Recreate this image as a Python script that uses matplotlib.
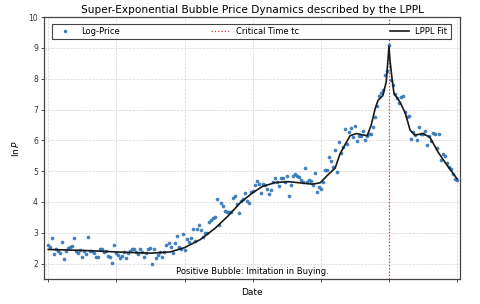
import numpy as np
import matplotlib.pyplot as plt
from matplotlib.lines import Line2D

# observed log-price (equally spaced in time, 0 .. 6 tick units)
log_price = [
    2.62, 2.55, 2.83, 2.30, 2.46, 2.40, 2.34, 2.70, 2.16, 2.42, 2.50, 2.55, 2.57, 2.84, 2.42, 2.34, 2.45, 2.22, 2.40, 2.30,
    2.88, 2.40, 2.42, 2.33, 2.20, 2.20, 2.49, 2.48, 2.38, 2.40, 2.24, 2.20, 2.02, 2.60, 2.35, 2.27, 2.19, 2.25, 2.38, 2.19,
    2.33, 2.40, 2.47, 2.49, 2.38, 2.30, 2.47, 2.38, 2.22, 2.35, 2.49, 2.52, 2.00, 2.49, 2.19, 2.27, 2.38, 2.22, 2.38, 2.60,
    2.68, 2.55, 2.33, 2.68, 2.90, 2.55, 2.49, 2.95, 2.45, 2.80, 2.70, 2.82, 3.12, 2.72, 3.14, 3.25, 3.10, 2.88, 3.00, 2.98,
    3.36, 3.42, 3.47, 3.50, 4.10, 3.25, 3.97, 3.86, 3.70, 3.69, 3.68, 3.67, 4.13, 4.20, 3.93, 3.65, 4.02, 4.10, 4.30, 4.02,
    3.98, 4.33, 4.36, 4.55, 4.68, 4.60, 4.29, 4.60, 4.55, 4.43, 4.27, 4.40, 4.65, 4.78, 4.65, 4.53, 4.78, 4.78, 4.65, 4.85,
    4.20, 4.56, 4.85, 4.90, 4.85, 4.80, 4.70, 4.65, 5.10, 4.65, 4.70, 4.68, 4.55, 4.94, 4.33, 4.50, 4.43, 4.65, 5.04, 5.05,
    5.46, 5.34, 5.13, 5.69, 4.98, 5.95, 5.60, 5.78, 6.37, 5.88, 6.28, 6.40, 6.12, 6.46, 5.98, 6.15, 6.15, 6.30, 6.00, 6.15,
    6.20, 6.22, 6.44, 6.75, 7.11, 7.45, 7.55, 7.62, 8.12, 8.25, 9.09, 7.96, 7.80, 7.50, 7.37, 7.20, 7.42, 7.44, 6.92,
    6.77, 6.80, 6.04, 6.27, 6.16, 6.00, 6.43, 6.20, 6.22, 6.30, 5.85, 6.15, 5.97, 6.25, 6.22, 5.75, 6.20, 5.37, 5.55, 5.50,
    5.27, 5.14, 5.07, 4.90, 4.75, 4.70,
]
t_start, t_end = 0.0, 6.0

# LPPL fit curve
fit_t = [0.0, 0.50, 1.0, 1.5, 1.79, 2.0, 2.23, 2.45, 2.64, 2.82, 3.0, 3.14, 3.33, 3.52, 3.70, 3.87, 3.99,
         4.09, 4.21, 4.28, 4.36, 4.43, 4.52, 4.61, 4.68, 4.74, 4.80, 4.84, 4.91, 4.96, 4.985, 5.0,
         5.015, 5.045, 5.075, 5.12, 5.16, 5.24, 5.31, 5.38, 5.50, 5.60, 5.72, 5.85, 6.0]
fit_y = [2.46, 2.43, 2.38, 2.34, 2.38, 2.52, 2.78, 3.15, 3.55, 3.98, 4.30, 4.50, 4.63, 4.66, 4.62, 4.58, 4.62,
         4.85, 5.10, 5.55, 5.88, 6.15, 6.22, 6.18, 6.15, 6.50, 7.05, 7.30, 7.45, 7.90, 8.60, 9.05,
         8.60, 8.00, 7.50, 7.38, 7.25, 6.88, 6.33, 6.17, 6.22, 6.10, 5.62, 5.20, 4.75]

tc = 5.0

t = np.linspace(t_start, t_end, len(log_price))

fig = plt.figure(figsize=(4.8, 3.04), dpi=100)
ax = fig.add_axes([0.092, 0.082, 0.866, 0.862])

ax.scatter(t, log_price, s=7, color='#2f74b5', alpha=0.9, linewidths=0, zorder=3)
ax.plot(fit_t, fit_y, color='#1a1a1a', lw=1.2, zorder=4)
ax.axvline(tc, color='#e03030', ls=':', lw=0.9, zorder=2)

ax.set_xlim(-0.06, 6.04)
ax.set_ylim(1.5, 10)
ax.set_xticks(np.arange(0, 7, 1))
ax.set_xticklabels([])
ax.set_yticks(range(2, 11))
ax.tick_params(labelsize=5.5, length=2.5, width=0.6, colors='#333333', pad=2)
ax.grid(True, ls='--', lw=0.5, color='#d5d5d5')
for s in ax.spines.values():
    s.set_color('#444444')
    s.set_linewidth(0.9)

ax.set_title('Super-Exponential Bubble Price Dynamics described by the LPPL', fontsize=7.6, pad=3)
ax.set_xlabel('Date', fontsize=6.5, labelpad=2)
ax.set_ylabel(r'$\ln P$', fontsize=6.5, labelpad=5)
ax.text(0.5, 0.012, 'Positive Bubble: Imitation in Buying.', transform=ax.transAxes,
        ha='center', va='bottom', fontsize=6)

handles = [
    Line2D([], [], ls='none', marker='o', ms=2.4, color='#2f74b5', markeredgewidth=0),
    Line2D([], [], color='#e03030', ls=':', lw=0.9),
    Line2D([], [], color='#1a1a1a', lw=1.2),
]
leg = ax.legend(handles, ['Log-Price', 'Critical Time tc', 'LPPL Fit'], ncol=3, mode='expand',
                loc='upper left', bbox_to_anchor=(0.01, 0.99, 0.978, 0), fontsize=6,
                fancybox=False, framealpha=1, edgecolor='#444444', borderpad=0.4,
                handlelength=2.2)
leg.get_frame().set_linewidth(0.8)

fig.savefig('out.png', dpi=100)
